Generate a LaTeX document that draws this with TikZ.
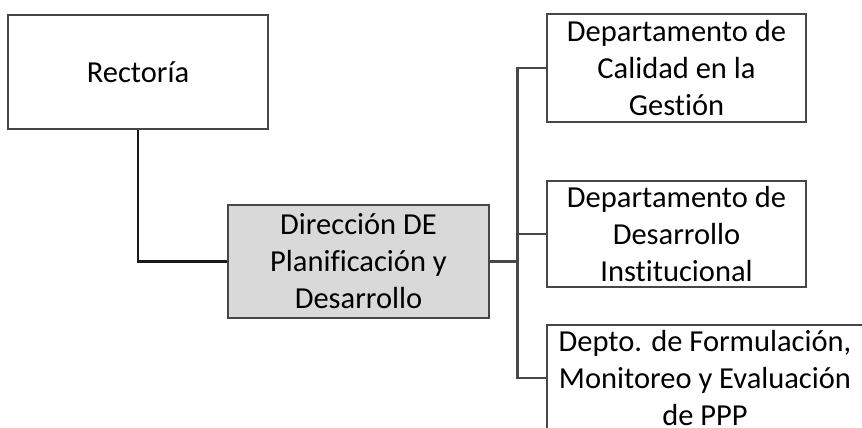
\documentclass[tikz,border=0pt]{standalone}
\usepackage{fontspec}
\setmainfont{Carlito}[Ligatures=NoCommon]
\usepackage{tikz}

\begin{document}
\begin{tikzpicture}
	[x=1pt, y=-1pt,
	every node/.style={draw=black!72, line width=2.6pt, align=center, inner sep=0pt,
		font=\fontsize{30.5}{37}\selectfont},
	unit/.style={minimum width=259pt, minimum height=108pt},
	link/.style={draw=black!72, line width=2.6pt}]
	\clip (0,0) rectangle (862,428);
	\node[unit, minimum width=260pt, minimum height=114pt] (rector) at (138,72) {Rectoría};
	\node[unit, fill=black!15, minimum width=261pt, minimum height=113pt] (direccion) at (358.5,261.5)
		{Dirección DE \\ Planificación y \\ Desarrollo};
	\node[unit] (calidad) at (676.5,68) {Departamento de \\ Calidad en la \\ Gestión};
	\node[unit, minimum height=106pt] (desarrollo) at (676.5,234)
		{Departamento de \\ Desarrollo \\ Institucional};
	\node[unit, minimum width=316pt, minimum height=106pt] (formulacion) at (705,378)
		{Depto. de Formulación, \\ Monitoreo y Evaluación \\ de PPP};
	\coordinate (bus) at (517.5,261.5);
	% connectors
	\draw[link, draw=black!90] (rector.south) |- (direccion.west);
	\draw[link] (direccion.east) -- (bus);
	\draw[link] (calidad.west) -| (bus) |- (formulacion.west);
	\draw[link] (desarrollo.west) -- (desarrollo.west -| bus);
\end{tikzpicture}
\end{document}
